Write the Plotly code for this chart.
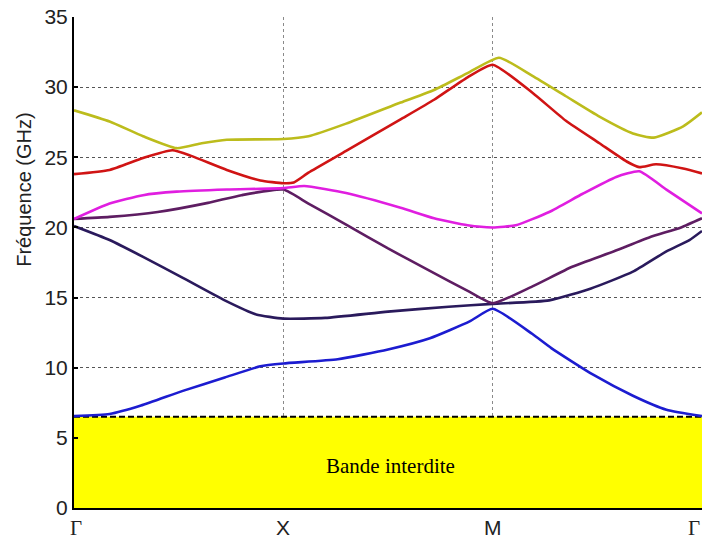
import plotly.graph_objects as go

# High-symmetry path positions and labels
k_ticks = [0, 1, 2, 3]
k_labels = ["Γ", "X", "M", "Γ"]
serif_labels = {"Γ"}

y_ticks = [0, 5, 10, 15, 20, 25, 30, 35]

# Band gap
gap_x = [0, 3]
gap_top = [6.5, 6.5]
gap_label = "Bande interdite"

# Bands (frequency in GHz)
b1_x = [0, 0.17, 0.32, 0.52, 0.72, 0.89, 1.0, 1.26, 1.5, 1.7, 1.89, 2.0, 2.19, 2.28, 2.48, 2.67, 2.83, 3.0]
b1_y = [6.55, 6.7, 7.3, 8.35, 9.3, 10.1, 10.3, 10.6, 11.3, 12.1, 13.3, 14.2, 12.4, 11.4, 9.5, 8.0, 7.0, 6.55]

b2_x = [0, 0.17, 0.33, 0.52, 0.72, 0.87, 1.0, 1.2, 1.5, 1.79, 2.0, 2.27, 2.47, 2.67, 2.83, 2.94, 3.0]
b2_y = [20.1, 19.1, 17.9, 16.4, 14.8, 13.8, 13.5, 13.55, 14.0, 14.35, 14.55, 14.8, 15.65, 16.85, 18.3, 19.1, 19.75]

b3_x = [0, 0.17, 0.4, 0.64, 0.8, 1.0, 1.12, 1.3, 1.5, 1.7, 1.89, 2.0, 2.19, 2.38, 2.58, 2.75, 2.9, 3.0]
b3_y = [20.6, 20.75, 21.1, 21.75, 22.3, 22.7, 21.7, 20.2, 18.5, 16.9, 15.4, 14.6, 15.8, 17.2, 18.3, 19.3, 20.0, 20.65]

b4_x = [0, 0.17, 0.33, 0.49, 0.73, 1.0, 1.1, 1.3, 1.56, 1.72, 1.88, 2.0, 2.11, 2.27, 2.43, 2.59, 2.7, 2.83, 3.0]
b4_y = [20.6, 21.7, 22.3, 22.55, 22.7, 22.8, 22.95, 22.45, 21.4, 20.65, 20.15, 20.0, 20.15, 21.1, 22.4, 23.6, 24.0, 22.7, 21.0]

b5_x = [0, 0.17, 0.33, 0.47, 0.56, 0.73, 0.89, 1.0, 1.05, 1.12, 1.3, 1.56, 1.72, 1.88, 2.0, 2.19, 2.35, 2.51, 2.64, 2.7, 2.78, 2.91, 3.0]
b5_y = [23.8, 24.1, 24.95, 25.5, 25.1, 24.1, 23.35, 23.15, 23.2, 23.9, 25.45, 27.7, 29.1, 30.7, 31.6, 29.6, 27.6, 26.0, 24.7, 24.3, 24.5, 24.2, 23.85]

b6_x = [0, 0.17, 0.33, 0.49, 0.61, 0.73, 1.0, 1.12, 1.3, 1.56, 1.72, 1.88, 2.03, 2.19, 2.35, 2.51, 2.67, 2.77, 2.91, 3.0]
b6_y = [28.35, 27.55, 26.5, 25.65, 26.0, 26.25, 26.3, 26.5, 27.4, 28.9, 29.8, 31.0, 32.1, 30.8, 29.35, 27.9, 26.7, 26.4, 27.2, 28.2]

bands = [
    (b1_x, b1_y, "#1c1cd0"),
    (b2_x, b2_y, "#2a1a5c"),
    (b3_x, b3_y, "#5e1d62"),
    (b4_x, b4_y, "#e01ee0"),
    (b5_x, b5_y, "#d01414"),
    (b6_x, b6_y, "#bcbc1c"),
]

fig = go.Figure()

fig.add_trace(go.Scatter(
    x=gap_x, y=gap_top, mode="lines", fill="tozeroy", fillcolor="#ffff00",
    line=dict(color="black", width=2, dash="6px,3px"), showlegend=False,
    hoverinfo="skip"))

for bx, by, col in bands:
    fig.add_trace(go.Scatter(
        x=bx, y=by, mode="lines",
        line=dict(color=col, width=2.6, shape="spline", smoothing=0.5),
        showlegend=False))

fig.add_annotation(x=1.51, y=3.0, xref="x", yref="y", text=gap_label,
                   showarrow=False,
                   font=dict(family="Liberation Serif", size=21, color="black"))

fig.add_annotation(x=0, y=0.648, xref="paper", yref="paper",
                   text="Fréquence (GHz)", textangle=-90, showarrow=False,
                   xanchor="center", yanchor="middle", xshift=-50,
                   font=dict(family="Liberation Sans, Arial", size=20, color="#222"))

# x tick labels drawn as annotations (serif Γ, sans X/M); last one kept inside the page
n_k = len(k_ticks)
for i, (kv, kl) in enumerate(zip(k_ticks, k_labels)):
    fam = "Liberation Serif" if kl in serif_labels else "Liberation Sans, Arial"
    anchor = "center"
    if i == n_k - 1:
        anchor = "right"
    fig.add_annotation(x=kv, y=0, xref="x", yref="paper", text=kl,
                       showarrow=False, xanchor=anchor, yanchor="top",
                       yshift=-6, xshift=(2 if i == 0 else 0),
                       font=dict(family=fam, size=21, color="#222"))

fig.update_xaxes(
    range=[0, 3], tickvals=k_ticks, showticklabels=False,
    showline=True, linecolor="black", linewidth=2, mirror=False,
    showgrid=True, gridcolor="#8a8a8a", griddash="dot", gridwidth=1,
    zeroline=False, ticks="",
)
fig.update_yaxes(
    range=[0, 35], tickvals=y_ticks,
    showline=True, linecolor="black", linewidth=2, mirror=False,
    showgrid=True, gridcolor="#555555", griddash="dot", gridwidth=1,
    zeroline=False, ticks="inside", ticklen=4, tickwidth=2, tickcolor="black",
    tickfont=dict(family="Liberation Sans, Arial", size=21, color="#222"),
)

fig.update_layout(
    width=704, height=543,
    margin=dict(l=74, r=2, t=17, b=35, autoexpand=False),
    paper_bgcolor="white", plot_bgcolor="white",
    showlegend=False,
)

fig.write_html(
    "out.html",
    config={"displayModeBar": False},
    post_script="document.body.style.margin='0';document.body.style.overflow='hidden';",
)
